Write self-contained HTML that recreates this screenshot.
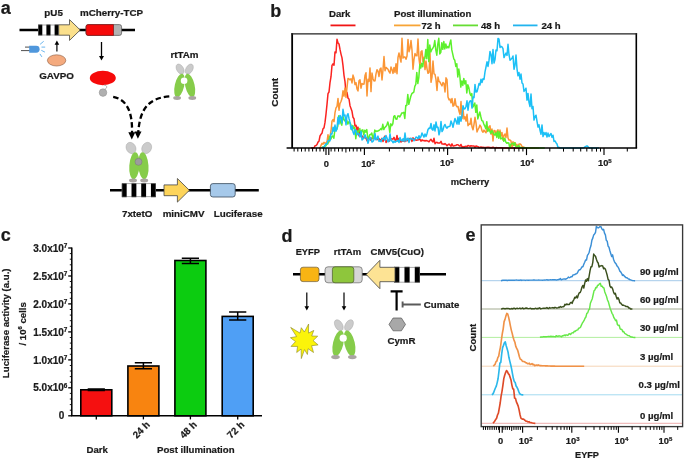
<!DOCTYPE html>
<html lang="en"><head><meta charset="utf-8"><title>Figure</title>
<style>
html,body{margin:0;padding:0;background:#fff;}
body{width:685px;height:460px;overflow:hidden;font-family:"Liberation Sans",Arial,sans-serif;}
svg{display:block;}
</style></head><body>
<svg width="685" height="460" viewBox="0 0 685 460" font-family="Liberation Sans, Arial, sans-serif" font-weight="bold">
<style>text{stroke:#222;stroke-width:0.22px;paint-order:stroke;}</style>
<text x="0.8" y="13.6" font-size="18" text-anchor="start" fill="#1a1a1a" >a</text>
<text x="53.6" y="16.0" font-size="9.8" text-anchor="middle" fill="#1a1a1a" >pU5</text>
<text x="80.0" y="16.0" font-size="9.8" text-anchor="start" fill="#1a1a1a" >mCherry-TCP</text>
<line x1="19.5" y1="30" x2="135" y2="30" stroke="#000" stroke-width="2.5"/>
<rect x="38.2" y="24.6" width="20.5" height="10.8" fill="#fff"/>
<rect x="38.20" y="24.6" width="4.10" height="10.8" fill="#000"/>
<rect x="46.40" y="24.6" width="4.10" height="10.8" fill="#000"/>
<rect x="54.60" y="24.6" width="4.10" height="10.8" fill="#000"/>
<rect x="38.6" y="25.0" width="19.7" height="10.0" fill="none" stroke="#555" stroke-width="0.5"/>
<path d="M58.7,24.8 L69.5,24.8 L69.5,19.6 L80.2,30.0 L69.5,40.4 L69.5,35.2 L58.7,35.2 Z" fill="#fbe08c" stroke="#444" stroke-width="0.8" stroke-linejoin="miter"/>
<rect x="86" y="24.6" width="35.6" height="10.8" rx="2.2" fill="#b3b3b3" stroke="#555" stroke-width="0.7"/>
<path d="M88.2,24.6 H113.5 V35.4 H88.2 A2.2,2.2 0 0 1 86,33.2 V26.8 A2.2,2.2 0 0 1 88.2,24.6 Z" fill="#f60a0a" stroke="#7a1a1a" stroke-width="0.7"/>
<line x1="25" y1="47.1" x2="30" y2="47.1" stroke="#222" stroke-width="0.8"/>
<line x1="21" y1="50.6" x2="30" y2="50.6" stroke="#222" stroke-width="0.8"/>
<path d="M29.2,45.8 H36.2 A3.4,3.45 0 0 1 36.2,52.7 H29.2 Z" fill="#4f97dc"/>
<line x1="40.1" y1="44.3" x2="43.7" y2="41.3" stroke="#6bb6ee" stroke-width="1.0"/>
<line x1="41.5" y1="47.1" x2="45.2" y2="47.1" stroke="#6bb6ee" stroke-width="1.0"/>
<line x1="41.3" y1="50.3" x2="44.9" y2="52.1" stroke="#6bb6ee" stroke-width="1.0"/>
<line x1="39.9" y1="53.9" x2="41.9" y2="56.9" stroke="#6bb6ee" stroke-width="1.0"/>
<line x1="56.9" y1="51.5" x2="56.9" y2="43.1" stroke="#000" stroke-width="1.2"/>
<path d="M54.6,44.8 L59.2,44.8 L56.9,40.6 Z" fill="#000"/>
<ellipse cx="56.6" cy="60.4" rx="9.2" ry="5.6" fill="#f4aa7e" stroke="#8a5a40" stroke-width="0.6"/>
<text x="56.6" y="78.6" font-size="9.8" text-anchor="middle" fill="#1a1a1a" >GAVPO</text>
<line x1="101.5" y1="42" x2="101.5" y2="57.7" stroke="#000" stroke-width="1.3"/>
<path d="M99.0,55.9 L104.0,55.9 L101.5,60.4 Z" fill="#000"/>
<ellipse cx="102.8" cy="78" rx="13" ry="7.2" fill="#f60a0a"/>
<path d="M104,85 C107.5,85 107.5,88.5 104.5,89.3" fill="none" stroke="#999" stroke-width="0.8"/>
<circle cx="103" cy="92.6" r="3.8" fill="#b0b0b0" stroke="#8a8a8a" stroke-width="0.5"/>
<text x="184.5" y="57.5" font-size="9.8" text-anchor="middle" fill="#1a1a1a" >rtTAm</text>
<ellipse cx="180.1" cy="69.1" rx="3.4" ry="5.5" fill="#cbcbcb" stroke="#a0a0a0" stroke-width="0.4" transform="rotate(-30 180.1 69.1)"/>
<ellipse cx="189.3" cy="69.1" rx="3.4" ry="5.5" fill="#cbcbcb" stroke="#a0a0a0" stroke-width="0.4" transform="rotate(30 189.3 69.1)"/>
<ellipse cx="179.5" cy="85.5" rx="4.7" ry="12.0" fill="#86cc4a" transform="rotate(13 179.5 85.5)"/>
<ellipse cx="189.9" cy="85.5" rx="4.7" ry="12.0" fill="#86cc4a" transform="rotate(-13 189.9 85.5)"/>
<ellipse cx="177.1" cy="98.0" rx="3.9" ry="1.9" fill="#aaa5a2"/>
<ellipse cx="192.3" cy="98.0" rx="3.9" ry="1.9" fill="#aaa5a2"/>
<circle cx="184.1" cy="80.8" r="3.3" fill="#fff"/>
<path d="M113.2,96.8 C127,99.5 132.6,112 132,133" fill="none" stroke="#000" stroke-width="2.3" stroke-dasharray="5.5,3"/>
<path d="M169.3,96.4 C148,98 139.8,110 138.3,132" fill="none" stroke="#000" stroke-width="2.3" stroke-dasharray="5.5,3"/>
<path d="M128.3,132.2 L135.3,132.2 L131.8,139.4 Z" fill="#000"/>
<path d="M134.5,131.6 L141.5,131.6 L137.9,138.8 Z" fill="#000"/>
<ellipse cx="131.0" cy="148" rx="4.7" ry="5.9" fill="#cbcbcb" stroke="#a0a0a0" stroke-width="0.4" transform="rotate(-28 131.0 148)"/>
<ellipse cx="146.7" cy="148" rx="4.7" ry="5.9" fill="#cbcbcb" stroke="#a0a0a0" stroke-width="0.4" transform="rotate(28 146.7 148)"/>
<ellipse cx="134.4" cy="165.8" rx="5.1" ry="13.5" fill="#86cc4a" transform="rotate(4 134.4 165.8)"/>
<ellipse cx="143.4" cy="165.8" rx="5.1" ry="13.5" fill="#86cc4a" transform="rotate(-4 143.4 165.8)"/>
<ellipse cx="133.0" cy="180.5" rx="4" ry="1.9" fill="#aaa5a2"/>
<ellipse cx="144.2" cy="180.5" rx="4" ry="1.9" fill="#aaa5a2"/>
<circle cx="138.5" cy="161.8" r="3.5" fill="#9c9c9c" stroke="#777" stroke-width="0.5"/>
<line x1="110" y1="190.3" x2="258.8" y2="190.3" stroke="#000" stroke-width="2.5"/>
<rect x="121.8" y="183.4" width="34.0" height="13.8" fill="#fff"/>
<rect x="121.80" y="183.4" width="4.86" height="13.8" fill="#000"/>
<rect x="131.51" y="183.4" width="4.86" height="13.8" fill="#000"/>
<rect x="141.23" y="183.4" width="4.86" height="13.8" fill="#000"/>
<rect x="150.94" y="183.4" width="4.86" height="13.8" fill="#000"/>
<rect x="122.2" y="183.8" width="33.2" height="13.0" fill="none" stroke="#555" stroke-width="0.5"/>
<path d="M164.0,184.9 L177.4,184.9 L177.4,178.5 L189.4,190.3 L177.4,202.1 L177.4,195.7 L164.0,195.7 Z" fill="#fdd45a" stroke="#444" stroke-width="0.8" stroke-linejoin="miter"/>
<rect x="210.4" y="183.6" width="24.8" height="13.4" rx="2.5" fill="#a6c9ea" stroke="#3a4a5a" stroke-width="0.8"/>
<text x="137.2" y="216.8" font-size="9.8" text-anchor="middle" fill="#1a1a1a" >7xtetO</text>
<text x="183.6" y="216.8" font-size="9.8" text-anchor="middle" fill="#1a1a1a" >miniCMV</text>
<text x="238.2" y="216.8" font-size="9.8" text-anchor="middle" fill="#1a1a1a" >Luciferase</text>
<text x="270.3" y="17.0" font-size="18" text-anchor="start" fill="#1a1a1a" >b</text>
<text x="329.0" y="16.6" font-size="9.6" text-anchor="start" fill="#1a1a1a" >Dark</text>
<text x="394.0" y="16.6" font-size="9.6" text-anchor="start" fill="#1a1a1a" >Post illumination</text>
<line x1="330.5" y1="25.4" x2="355.5" y2="25.4" stroke="#f01515" stroke-width="1.8"/>
<line x1="394" y1="25.4" x2="420.5" y2="25.4" stroke="#f7a436" stroke-width="1.8"/>
<text x="421.5" y="29.0" font-size="9.6" text-anchor="start" fill="#1a1a1a" >72 h</text>
<line x1="453" y1="25.4" x2="478" y2="25.4" stroke="#66dd33" stroke-width="1.8"/>
<text x="481.0" y="29.0" font-size="9.6" text-anchor="start" fill="#1a1a1a" >48 h</text>
<line x1="513" y1="25.4" x2="537.5" y2="25.4" stroke="#22b4ee" stroke-width="1.8"/>
<text x="541.5" y="29.0" font-size="9.6" text-anchor="start" fill="#1a1a1a" >24 h</text>
<text transform="translate(277.6,92.3) rotate(-90)" font-size="9.95" text-anchor="middle" fill="#1a1a1a">Count</text>
<text x="470.0" y="185.2" font-size="9.4" text-anchor="middle" fill="#1a1a1a" >mCherry</text>
<clipPath id="cb"><rect x="292" y="34" width="345" height="115.2"/></clipPath>
<g clip-path="url(#cb)">
<path d="M311.0,148.1 L312.0,148.1 L313.0,147.8 L314.0,148.0 L315.0,145.8 L316.0,145.6 L317.0,144.5 L318.0,142.1 L319.0,141.2 L320.0,136.0 L321.0,134.3 L322.0,133.2 L323.0,128.8 L324.0,127.9 L325.0,122.4 L326.0,114.1 L327.0,104.3 L328.0,93.6 L329.0,92.0 L330.0,82.6 L331.0,76.7 L332.0,65.4 L333.0,63.8 L334.0,65.2 L335.0,51.9 L336.0,52.7 L337.0,39.2 L338.0,42.9 L339.0,44.0 L340.0,49.4 L341.0,54.1 L342.0,57.9 L343.0,65.6 L344.0,75.3 L345.0,81.6 L346.0,93.3 L347.0,92.4 L348.0,98.2 L349.0,99.0 L350.0,105.7 L351.0,108.5 L352.0,111.3 L353.0,117.3 L354.0,118.7 L355.0,126.1 L356.0,125.2 L357.0,130.4 L358.0,127.1 L359.0,135.8 L360.0,131.2 L361.0,134.6 L362.0,136.1 L363.0,137.3 L364.0,137.3 L365.0,137.7 L366.0,137.9 L367.0,140.8 L368.0,138.3 L369.0,138.7 L370.0,138.6 L371.0,140.5 L372.0,137.8 L373.0,138.6 L374.0,137.4 L375.0,137.8 L376.0,139.2 L377.0,139.7 L378.0,138.3 L379.0,138.5 L380.0,140.5 L381.0,139.7 L382.0,138.3 L383.0,141.5 L384.0,138.8 L385.0,136.0 L386.0,142.5 L387.0,140.8 L388.0,139.9 L389.0,141.4 L390.0,139.3 L391.0,138.7 L392.0,138.9 L393.0,139.2 L394.0,137.3 L395.0,140.0 L396.0,140.3 L397.0,135.5 L398.0,141.1 L399.0,138.5 L400.0,139.2 L401.0,142.1 L402.0,140.2 L403.0,141.3 L404.0,140.7 L405.0,141.6 L406.0,139.0 L407.0,140.9 L408.0,139.3 L409.0,139.2 L410.0,138.4 L411.0,138.5 L412.0,141.4 L413.0,137.8 L414.0,139.3 L415.0,139.1 L416.0,140.4 L417.0,140.0 L418.0,140.1 L419.0,138.7 L420.0,139.5 L421.0,141.2 L422.0,139.9 L423.0,140.7 L424.0,140.4 L425.0,141.0 L426.0,140.5 L427.0,140.8 L428.0,141.1 L429.0,141.8 L430.0,140.3 L431.0,139.3 L432.0,141.0 L433.0,142.0 L434.0,138.3 L435.0,143.7 L436.0,142.6 L437.0,142.2 L438.0,143.1 L439.0,143.1 L440.0,142.9 L441.0,141.3 L442.0,144.1 L443.0,143.9 L444.0,144.4 L445.0,143.6 L446.0,144.5 L447.0,145.8 L448.0,144.7 L449.0,144.1 L450.0,145.1 L451.0,146.2 L452.0,143.9 L453.0,146.0 L454.0,145.9 L455.0,145.5 L456.0,145.4 L457.0,144.7 L458.0,144.7 L459.0,145.6 L460.0,146.2 L461.0,144.5 L462.0,147.0 L463.0,146.6 L464.0,147.1 L465.0,146.4 L466.0,146.2 L467.0,146.7 L468.0,145.4 L469.0,145.9 L470.0,146.4 L471.0,145.7 L472.0,146.0 L473.0,146.0 L474.0,146.0 L475.0,147.3 L476.0,145.9 L477.0,146.3 L478.0,146.6 L479.0,147.6 L480.0,147.2 L481.0,146.9 L482.0,147.5 L483.0,147.2 L484.0,147.4 L485.0,147.4 L486.0,147.6 L487.0,147.3 L488.0,147.2 L489.0,147.2 L490.0,147.8 L491.0,147.6 L492.0,147.8 L493.0,147.1 L494.0,147.7 L495.0,148.0 L496.0,147.6 L497.0,147.8 L498.0,147.7 L499.0,147.7 L500.0,147.7 L501.0,147.8 L502.0,147.8 L503.0,147.9 L504.0,148.0 L505.0,147.9 L506.0,147.9 L507.0,148.0 L508.0,148.0 L509.0,148.1 L510.0,148.1 L511.0,148.0 L512.0,148.1 L513.0,147.9 L514.0,148.0 L515.0,148.1 L516.0,148.1 L517.0,148.1 L518.0,148.1 L519.0,148.1 L520.0,148.1 L521.0,148.1 L522.0,148.1 L523.0,148.1 L524.0,148.1 L525.0,148.1 L526.0,148.1 L527.0,148.1 L528.0,148.1 L529.0,148.1 L530.0,148.1 L531.0,148.1 L532.0,148.1 L533.0,148.1 L534.0,148.1 L535.0,148.1" fill="none" stroke="#fb2320" stroke-width="1.5" stroke-linejoin="round"/>
<path d="M319.0,148.1 L320.0,148.1 L321.0,145.4 L322.0,143.3 L323.0,144.2 L324.0,142.3 L325.0,143.3 L326.0,142.9 L327.0,141.5 L328.0,134.7 L329.0,141.8 L330.0,136.4 L331.0,131.0 L332.0,121.1 L333.0,119.6 L334.0,121.6 L335.0,112.6 L336.0,107.9 L337.0,106.5 L338.0,98.4 L339.0,110.3 L340.0,103.5 L341.0,101.5 L342.0,98.5 L343.0,90.8 L344.0,96.2 L345.0,88.0 L346.0,97.5 L347.0,87.5 L348.0,78.4 L349.0,79.0 L350.0,79.8 L351.0,78.7 L352.0,82.9 L353.0,75.1 L354.0,78.3 L355.0,84.6 L356.0,82.7 L357.0,88.9 L358.0,91.0 L359.0,80.8 L360.0,79.8 L361.0,88.2 L362.0,83.5 L363.0,84.2 L364.0,84.1 L365.0,75.6 L366.0,72.7 L367.0,96.0 L368.0,79.3 L369.0,81.4 L370.0,67.9 L371.0,91.6 L372.0,73.1 L373.0,78.7 L374.0,81.0 L375.0,80.8 L376.0,73.9 L377.0,69.7 L378.0,71.2 L379.0,76.5 L380.0,69.0 L381.0,68.1 L382.0,80.0 L383.0,69.7 L384.0,56.5 L385.0,70.8 L386.0,67.4 L387.0,68.4 L388.0,69.3 L389.0,71.7 L390.0,73.2 L391.0,66.9 L392.0,69.7 L393.0,73.4 L394.0,67.4 L395.0,72.4 L396.0,63.8 L397.0,73.7 L398.0,57.4 L399.0,53.0 L400.0,57.8 L401.0,62.1 L402.0,38.3 L403.0,58.1 L404.0,56.9 L405.0,57.1 L406.0,59.3 L407.0,56.0 L408.0,39.4 L409.0,51.7 L410.0,48.3 L411.0,40.5 L412.0,50.0 L413.0,69.3 L414.0,59.3 L415.0,53.6 L416.0,55.6 L417.0,55.8 L418.0,39.0 L419.0,58.8 L420.0,66.1 L421.0,51.9 L422.0,50.9 L423.0,61.8 L424.0,57.3 L425.0,69.6 L426.0,61.1 L427.0,68.6 L428.0,73.3 L429.0,72.5 L430.0,53.3 L431.0,82.3 L432.0,77.1 L433.0,60.9 L434.0,73.8 L435.0,74.4 L436.0,79.7 L437.0,90.4 L438.0,76.9 L439.0,81.4 L440.0,82.1 L441.0,84.1 L442.0,85.9 L443.0,82.5 L444.0,83.5 L445.0,91.9 L446.0,77.8 L447.0,79.6 L448.0,97.0 L449.0,99.8 L450.0,99.1 L451.0,102.8 L452.0,98.4 L453.0,106.2 L454.0,105.4 L455.0,98.7 L456.0,105.4 L457.0,106.7 L458.0,106.5 L459.0,111.2 L460.0,114.4 L461.0,101.5 L462.0,118.6 L463.0,108.8 L464.0,119.0 L465.0,116.8 L466.0,121.1 L467.0,114.3 L468.0,125.7 L469.0,124.0 L470.0,124.4 L471.0,118.3 L472.0,126.8 L473.0,129.8 L474.0,124.3 L475.0,117.3 L476.0,122.9 L477.0,132.0 L478.0,129.5 L479.0,127.6 L480.0,125.1 L481.0,126.8 L482.0,130.9 L483.0,132.2 L484.0,130.1 L485.0,131.5 L486.0,132.8 L487.0,128.1 L488.0,129.1 L489.0,126.8 L490.0,125.8 L491.0,134.1 L492.0,129.0 L493.0,141.0 L494.0,130.4 L495.0,130.7 L496.0,134.8 L497.0,130.9 L498.0,129.8 L499.0,136.0 L500.0,130.0 L501.0,136.0 L502.0,132.5 L503.0,140.1 L504.0,135.3 L505.0,134.0 L506.0,137.5 L507.0,128.1 L508.0,138.0 L509.0,140.1 L510.0,140.0 L511.0,141.1 L512.0,147.4 L513.0,141.7 L514.0,145.6 L515.0,142.6 L516.0,145.3 L517.0,144.4 L518.0,147.8 L519.0,144.1 L520.0,143.9 L521.0,144.7 L522.0,146.5 L523.0,146.9 L524.0,147.3 L525.0,147.9 L526.0,148.1 L527.0,148.1 L528.0,148.1 L529.0,148.1 L530.0,148.1 L531.0,148.1 L532.0,148.1 L533.0,148.1 L534.0,148.1 L535.0,148.1 L536.0,148.1 L537.0,148.1 L538.0,148.1 L539.0,148.1" fill="none" stroke="#fb9636" stroke-width="1.5" stroke-linejoin="round"/>
<path d="M321.8,148.1 L322.8,147.1 L323.8,147.0 L324.8,146.2 L325.8,145.8 L326.8,143.8 L327.8,143.9 L328.8,141.2 L329.8,136.3 L330.8,139.1 L331.8,136.6 L332.8,136.0 L333.8,138.3 L334.8,130.7 L335.8,130.1 L336.8,129.4 L337.8,126.0 L338.8,115.8 L339.8,118.9 L340.8,123.0 L341.8,125.2 L342.8,115.6 L343.8,119.5 L344.8,120.9 L345.8,119.1 L346.8,120.5 L347.8,124.1 L348.8,121.7 L349.8,122.7 L350.8,124.4 L351.8,129.8 L352.8,125.6 L353.8,128.5 L354.8,127.7 L355.8,138.7 L356.8,130.6 L357.8,133.1 L358.8,130.7 L359.8,128.5 L360.8,134.6 L361.8,130.3 L362.8,129.9 L363.8,134.9 L364.8,130.2 L365.8,132.2 L366.8,129.6 L367.8,138.5 L368.8,137.8 L369.8,134.7 L370.8,134.5 L371.8,133.0 L372.8,138.4 L373.8,136.1 L374.8,130.1 L375.8,131.7 L376.8,130.9 L377.8,131.2 L378.8,130.5 L379.8,129.9 L380.8,128.6 L381.8,129.6 L382.8,124.3 L383.8,129.6 L384.8,127.5 L385.8,126.6 L386.8,125.2 L387.8,122.0 L388.8,125.3 L389.8,132.5 L390.8,123.8 L391.8,125.7 L392.8,123.8 L393.8,116.3 L394.8,115.7 L395.8,119.1 L396.8,119.3 L397.8,116.1 L398.8,115.9 L399.8,116.9 L400.8,115.2 L401.8,112.9 L402.8,112.9 L403.8,112.4 L404.8,118.4 L405.8,105.4 L406.8,105.4 L407.8,94.4 L408.8,104.3 L409.8,100.3 L410.8,96.3 L411.8,93.7 L412.8,92.9 L413.8,92.1 L414.8,86.3 L415.8,84.4 L416.8,72.4 L417.8,83.5 L418.8,77.6 L419.8,64.6 L420.8,68.0 L421.8,63.2 L422.8,66.7 L423.8,59.0 L424.8,58.6 L425.8,49.6 L426.8,58.7 L427.8,39.6 L428.8,61.6 L429.8,45.0 L430.8,52.1 L431.8,49.4 L432.8,48.2 L433.8,46.4 L434.8,40.6 L435.8,49.9 L436.8,55.2 L437.8,44.1 L438.8,38.3 L439.8,53.9 L440.8,52.3 L441.8,42.8 L442.8,49.3 L443.8,41.6 L444.8,48.9 L445.8,43.9 L446.8,48.1 L447.8,46.5 L448.8,47.8 L449.8,43.4 L450.8,39.9 L451.8,49.9 L452.8,54.3 L453.8,58.9 L454.8,60.3 L455.8,66.5 L456.8,63.7 L457.8,76.9 L458.8,69.1 L459.8,75.5 L460.8,87.1 L461.8,80.9 L462.8,85.4 L463.8,78.4 L464.8,83.9 L465.8,80.7 L466.8,93.0 L467.8,84.8 L468.8,87.4 L469.8,93.1 L470.8,95.5 L471.8,93.6 L472.8,107.2 L473.8,105.4 L474.8,103.0 L475.8,112.3 L476.8,105.0 L477.8,118.9 L478.8,115.5 L479.8,111.9 L480.8,116.5 L481.8,120.6 L482.8,121.0 L483.8,124.0 L484.8,126.1 L485.8,128.7 L486.8,121.7 L487.8,131.5 L488.8,128.5 L489.8,131.1 L490.8,133.4 L491.8,130.5 L492.8,132.0 L493.8,134.4 L494.8,135.0 L495.8,132.8 L496.8,137.4 L497.8,131.2 L498.8,138.3 L499.8,132.1 L500.8,139.0 L501.8,138.3 L502.8,138.1 L503.8,141.3 L504.8,138.2 L505.8,142.1 L506.8,143.3 L507.8,142.7 L508.8,142.9 L509.8,148.1 L510.8,144.4 L511.8,143.6 L512.8,143.1 L513.8,145.1 L514.8,142.7 L515.8,146.2 L516.8,147.2 L517.8,146.2 L518.8,145.2 L519.8,148.1 L520.8,147.3 L521.8,148.0 L522.8,148.1 L523.8,147.6 L524.8,147.7 L525.8,147.7 L526.8,148.1 L527.8,148.1 L528.8,148.1 L529.8,148.1 L530.8,148.1 L531.8,148.1 L532.8,148.1 L533.8,148.1 L534.8,148.1 L535.8,148.1 L536.8,148.1 L537.8,148.1 L538.8,148.1 L539.8,148.1 L540.8,148.1 L541.8,148.1 L542.8,148.1 L543.8,148.1 L544.8,148.1" fill="none" stroke="#5cf02c" stroke-width="1.5" stroke-linejoin="round"/>
<path d="M322.0,148.1 L323.0,147.2 L324.0,147.6 L325.0,145.1 L326.0,143.6 L327.0,144.0 L328.0,140.6 L329.0,140.6 L330.0,140.8 L331.0,133.7 L332.0,134.0 L333.0,127.3 L334.0,131.2 L335.0,125.0 L336.0,131.3 L337.0,128.4 L338.0,117.3 L339.0,123.9 L340.0,115.4 L341.0,117.3 L342.0,122.9 L343.0,109.3 L344.0,115.7 L345.0,115.0 L346.0,124.8 L347.0,115.5 L348.0,113.7 L349.0,118.5 L350.0,122.6 L351.0,129.2 L352.0,125.9 L353.0,132.0 L354.0,134.5 L355.0,129.6 L356.0,130.6 L357.0,134.8 L358.0,133.3 L359.0,134.1 L360.0,137.1 L361.0,131.2 L362.0,139.9 L363.0,138.9 L364.0,137.9 L365.0,134.8 L366.0,137.6 L367.0,138.2 L368.0,143.3 L369.0,140.0 L370.0,137.2 L371.0,138.7 L372.0,142.0 L373.0,141.4 L374.0,139.7 L375.0,133.4 L376.0,139.8 L377.0,138.5 L378.0,136.1 L379.0,141.4 L380.0,140.8 L381.0,141.7 L382.0,138.7 L383.0,139.0 L384.0,137.2 L385.0,140.3 L386.0,135.6 L387.0,138.0 L388.0,141.8 L389.0,141.1 L390.0,133.8 L391.0,140.7 L392.0,140.7 L393.0,142.8 L394.0,141.0 L395.0,142.3 L396.0,141.5 L397.0,141.0 L398.0,140.4 L399.0,142.5 L400.0,137.6 L401.0,140.2 L402.0,140.9 L403.0,138.7 L404.0,141.3 L405.0,133.0 L406.0,140.9 L407.0,139.4 L408.0,138.1 L409.0,142.5 L410.0,138.8 L411.0,138.4 L412.0,139.1 L413.0,139.0 L414.0,140.8 L415.0,139.3 L416.0,137.0 L417.0,137.4 L418.0,138.9 L419.0,135.7 L420.0,138.1 L421.0,136.5 L422.0,133.0 L423.0,135.1 L424.0,137.1 L425.0,134.0 L426.0,136.6 L427.0,133.7 L428.0,129.5 L429.0,128.1 L430.0,128.5 L431.0,123.5 L432.0,129.3 L433.0,130.1 L434.0,124.8 L435.0,130.9 L436.0,122.0 L437.0,127.5 L438.0,127.2 L439.0,134.8 L440.0,131.1 L441.0,121.5 L442.0,131.6 L443.0,129.8 L444.0,126.1 L445.0,124.5 L446.0,127.1 L447.0,128.1 L448.0,126.6 L449.0,126.7 L450.0,126.2 L451.0,121.0 L452.0,123.6 L453.0,127.3 L454.0,122.5 L455.0,118.4 L456.0,121.3 L457.0,124.1 L458.0,117.1 L459.0,124.2 L460.0,116.5 L461.0,121.2 L462.0,115.6 L463.0,105.7 L464.0,108.9 L465.0,108.8 L466.0,106.5 L467.0,100.8 L468.0,110.2 L469.0,102.9 L470.0,101.0 L471.0,100.7 L472.0,108.1 L473.0,96.9 L474.0,97.6 L475.0,84.4 L476.0,92.1 L477.0,91.8 L478.0,88.0 L479.0,83.6 L480.0,85.0 L481.0,79.2 L482.0,82.5 L483.0,78.7 L484.0,79.4 L485.0,71.8 L486.0,67.0 L487.0,61.8 L488.0,66.4 L489.0,60.4 L490.0,51.4 L491.0,54.4 L492.0,63.7 L493.0,49.5 L494.0,63.0 L495.0,59.6 L496.0,50.0 L497.0,50.8 L498.0,38.4 L499.0,39.2 L500.0,47.4 L501.0,46.3 L502.0,46.9 L503.0,48.7 L504.0,57.6 L505.0,55.1 L506.0,53.1 L507.0,55.4 L508.0,44.2 L509.0,54.7 L510.0,60.2 L511.0,59.2 L512.0,58.3 L513.0,56.0 L514.0,69.3 L515.0,65.2 L516.0,55.0 L517.0,68.8 L518.0,75.8 L519.0,72.5 L520.0,79.2 L521.0,74.1 L522.0,83.0 L523.0,84.0 L524.0,91.4 L525.0,90.0 L526.0,88.2 L527.0,100.2 L528.0,93.4 L529.0,102.4 L530.0,106.6 L531.0,94.1 L532.0,108.8 L533.0,106.5 L534.0,120.1 L535.0,116.4 L536.0,115.2 L537.0,121.4 L538.0,127.1 L539.0,124.8 L540.0,130.2 L541.0,134.2 L542.0,124.9 L543.0,136.6 L544.0,132.6 L545.0,134.7 L546.0,132.5 L547.0,137.1 L548.0,133.1 L549.0,136.6 L550.0,134.8 L551.0,133.5 L552.0,137.3 L553.0,135.2 L554.0,141.4 L555.0,141.0 L556.0,142.7 L557.0,144.0 L558.0,147.6 L559.0,147.2 L560.0,148.1 L561.0,148.1 L562.0,148.1 L563.0,148.1 L564.0,148.1 L565.0,148.1 L566.0,148.1 L567.0,148.1 L568.0,148.1 L569.0,148.1 L570.0,148.1 L571.0,148.1 L572.0,148.1 L573.0,148.1 L574.0,148.1 L575.0,148.1 L576.0,148.1 L577.0,148.1 L578.0,148.1 L579.0,148.1 L580.0,148.1 L581.0,148.1 L582.0,148.1 L583.0,148.1 L584.0,147.6 L585.0,146.8 L586.0,146.3 L587.0,145.9 L588.0,146.7 L589.0,147.7 L590.0,148.1 L591.0,148.1 L592.0,148.1 L593.0,148.1 L594.0,148.1 L595.0,148.1 L596.0,148.1 L597.0,148.1 L598.0,148.1 L599.0,148.1" fill="none" stroke="#1cc0f6" stroke-width="1.5" stroke-linejoin="round"/>
</g>
<line x1="292.15" y1="33.2" x2="292.15" y2="148.1" stroke="#000" stroke-width="1.8"/>
<line x1="636.3" y1="33.2" x2="636.3" y2="148.1" stroke="#000" stroke-width="1.6"/>
<line x1="291.3" y1="33.8" x2="637.1" y2="33.8" stroke="#222" stroke-width="1.25"/>
<line x1="286.6" y1="148.1" x2="637.1" y2="148.1" stroke="#000" stroke-width="1.5"/>
<line x1="364.4" y1="148.1" x2="364.4" y2="155.1" stroke="#000" stroke-width="1.15"/>
<line x1="447.6" y1="148.1" x2="447.6" y2="155.1" stroke="#000" stroke-width="1.15"/>
<line x1="526.5" y1="148.1" x2="526.5" y2="155.1" stroke="#000" stroke-width="1.15"/>
<line x1="604.0" y1="148.1" x2="604.0" y2="155.1" stroke="#000" stroke-width="1.15"/>
<line x1="326.0" y1="148.1" x2="326.0" y2="155.1" stroke="#000" stroke-width="1.15"/>
<line x1="328.8" y1="148.1" x2="328.8" y2="155.1" stroke="#000" stroke-width="1.15"/>
<line x1="331.1" y1="148.1" x2="331.1" y2="151.6" stroke="#000" stroke-width="1.03"/>
<line x1="334.8" y1="148.1" x2="334.8" y2="151.6" stroke="#000" stroke-width="1.03"/>
<line x1="338.5" y1="148.1" x2="338.5" y2="151.6" stroke="#000" stroke-width="1.03"/>
<line x1="342.2" y1="148.1" x2="342.2" y2="151.6" stroke="#000" stroke-width="1.03"/>
<line x1="345.9" y1="148.1" x2="345.9" y2="152.6" stroke="#000" stroke-width="1.03"/>
<line x1="349.6" y1="148.1" x2="349.6" y2="151.6" stroke="#000" stroke-width="1.03"/>
<line x1="353.3" y1="148.1" x2="353.3" y2="151.6" stroke="#000" stroke-width="1.03"/>
<line x1="357.0" y1="148.1" x2="357.0" y2="151.6" stroke="#000" stroke-width="1.03"/>
<line x1="360.7" y1="148.1" x2="360.7" y2="151.6" stroke="#000" stroke-width="1.03"/>
<line x1="323.7" y1="148.1" x2="323.7" y2="151.6" stroke="#000" stroke-width="1.03"/>
<line x1="320.0" y1="148.1" x2="320.0" y2="151.6" stroke="#000" stroke-width="1.03"/>
<line x1="316.3" y1="148.1" x2="316.3" y2="151.6" stroke="#000" stroke-width="1.03"/>
<line x1="312.6" y1="148.1" x2="312.6" y2="151.6" stroke="#000" stroke-width="1.03"/>
<line x1="308.9" y1="148.1" x2="308.9" y2="151.6" stroke="#000" stroke-width="1.03"/>
<line x1="305.2" y1="148.1" x2="305.2" y2="151.6" stroke="#000" stroke-width="1.03"/>
<line x1="301.5" y1="148.1" x2="301.5" y2="151.6" stroke="#000" stroke-width="1.03"/>
<line x1="297.8" y1="148.1" x2="297.8" y2="151.6" stroke="#000" stroke-width="1.03"/>
<line x1="294.1" y1="148.1" x2="294.1" y2="151.6" stroke="#000" stroke-width="1.03"/>
<line x1="389.4" y1="148.1" x2="389.4" y2="151.6" stroke="#000" stroke-width="1.03"/>
<line x1="404.1" y1="148.1" x2="404.1" y2="151.6" stroke="#000" stroke-width="1.03"/>
<line x1="414.5" y1="148.1" x2="414.5" y2="151.6" stroke="#000" stroke-width="1.03"/>
<line x1="422.6" y1="148.1" x2="422.6" y2="151.6" stroke="#000" stroke-width="1.03"/>
<line x1="429.1" y1="148.1" x2="429.1" y2="151.6" stroke="#000" stroke-width="1.03"/>
<line x1="434.7" y1="148.1" x2="434.7" y2="151.6" stroke="#000" stroke-width="1.03"/>
<line x1="439.5" y1="148.1" x2="439.5" y2="151.6" stroke="#000" stroke-width="1.03"/>
<line x1="443.8" y1="148.1" x2="443.8" y2="151.6" stroke="#000" stroke-width="1.03"/>
<line x1="471.4" y1="148.1" x2="471.4" y2="151.6" stroke="#000" stroke-width="1.03"/>
<line x1="485.2" y1="148.1" x2="485.2" y2="151.6" stroke="#000" stroke-width="1.03"/>
<line x1="495.1" y1="148.1" x2="495.1" y2="151.6" stroke="#000" stroke-width="1.03"/>
<line x1="502.7" y1="148.1" x2="502.7" y2="151.6" stroke="#000" stroke-width="1.03"/>
<line x1="509.0" y1="148.1" x2="509.0" y2="151.6" stroke="#000" stroke-width="1.03"/>
<line x1="514.3" y1="148.1" x2="514.3" y2="151.6" stroke="#000" stroke-width="1.03"/>
<line x1="518.9" y1="148.1" x2="518.9" y2="151.6" stroke="#000" stroke-width="1.03"/>
<line x1="522.9" y1="148.1" x2="522.9" y2="151.6" stroke="#000" stroke-width="1.03"/>
<line x1="549.8" y1="148.1" x2="549.8" y2="151.6" stroke="#000" stroke-width="1.03"/>
<line x1="563.5" y1="148.1" x2="563.5" y2="151.6" stroke="#000" stroke-width="1.03"/>
<line x1="573.2" y1="148.1" x2="573.2" y2="151.6" stroke="#000" stroke-width="1.03"/>
<line x1="580.7" y1="148.1" x2="580.7" y2="151.6" stroke="#000" stroke-width="1.03"/>
<line x1="586.8" y1="148.1" x2="586.8" y2="151.6" stroke="#000" stroke-width="1.03"/>
<line x1="592.0" y1="148.1" x2="592.0" y2="151.6" stroke="#000" stroke-width="1.03"/>
<line x1="596.5" y1="148.1" x2="596.5" y2="151.6" stroke="#000" stroke-width="1.03"/>
<line x1="600.5" y1="148.1" x2="600.5" y2="151.6" stroke="#000" stroke-width="1.03"/>
<line x1="627.3" y1="148.1" x2="627.3" y2="151.6" stroke="#000" stroke-width="1.03"/>
<text x="326.4" y="167.3" font-size="9.3" text-anchor="middle" fill="#1a1a1a" >0</text>
<text x="361.2" y="167.3" font-size="9.3" text-anchor="start" fill="#1a1a1a" >10<tspan font-size="6.0" dy="-3.3">2</tspan></text>
<text x="440.0" y="166.0" font-size="9.3" text-anchor="start" fill="#1a1a1a" >10<tspan font-size="6.0" dy="-3.3">3</tspan></text>
<text x="520.2" y="166.0" font-size="9.3" text-anchor="start" fill="#1a1a1a" >10<tspan font-size="6.0" dy="-3.3">4</tspan></text>
<text x="598.0" y="166.0" font-size="9.3" text-anchor="start" fill="#1a1a1a" >10<tspan font-size="6.0" dy="-3.3">5</tspan></text>
<text x="0.8" y="241.0" font-size="18" text-anchor="start" fill="#1a1a1a" >c</text>
<text transform="translate(9.4,323.3) rotate(-90)" font-size="9.65" text-anchor="middle" fill="#1a1a1a">Luciferase activity (a.u.)</text>
<text transform="translate(25.9,323.8) rotate(-90)" font-size="9.65" text-anchor="middle" fill="#1a1a1a">/ 10<tspan font-size="5.8" dy="-3.6">6</tspan><tspan dy="3.6"> cells</tspan></text>
<line x1="68.2" y1="415.8" x2="71.8" y2="415.8" stroke="#000" stroke-width="1.3"/>
<text x="64.3" y="419.4" font-size="10" text-anchor="end" fill="#1a1a1a" >0</text>
<line x1="69.8" y1="410.2" x2="71.8" y2="410.2" stroke="#000" stroke-width="0.9"/>
<line x1="69.8" y1="404.6" x2="71.8" y2="404.6" stroke="#000" stroke-width="0.9"/>
<line x1="69.8" y1="399.0" x2="71.8" y2="399.0" stroke="#000" stroke-width="0.9"/>
<line x1="69.8" y1="393.4" x2="71.8" y2="393.4" stroke="#000" stroke-width="0.9"/>
<line x1="68.2" y1="387.8" x2="71.8" y2="387.8" stroke="#000" stroke-width="1.3"/>
<text x="67.4" y="391.4" font-size="10" text-anchor="end" fill="#1a1a1a" >5.0x10<tspan font-size="6.4" dy="-3.6">6</tspan></text>
<line x1="69.8" y1="382.2" x2="71.8" y2="382.2" stroke="#000" stroke-width="0.9"/>
<line x1="69.8" y1="376.6" x2="71.8" y2="376.6" stroke="#000" stroke-width="0.9"/>
<line x1="69.8" y1="371.0" x2="71.8" y2="371.0" stroke="#000" stroke-width="0.9"/>
<line x1="69.8" y1="365.5" x2="71.8" y2="365.5" stroke="#000" stroke-width="0.9"/>
<line x1="68.2" y1="359.9" x2="71.8" y2="359.9" stroke="#000" stroke-width="1.3"/>
<text x="67.4" y="363.5" font-size="10" text-anchor="end" fill="#1a1a1a" >1.0x10<tspan font-size="6.4" dy="-3.6">7</tspan></text>
<line x1="69.8" y1="354.3" x2="71.8" y2="354.3" stroke="#000" stroke-width="0.9"/>
<line x1="69.8" y1="348.7" x2="71.8" y2="348.7" stroke="#000" stroke-width="0.9"/>
<line x1="69.8" y1="343.1" x2="71.8" y2="343.1" stroke="#000" stroke-width="0.9"/>
<line x1="69.8" y1="337.5" x2="71.8" y2="337.5" stroke="#000" stroke-width="0.9"/>
<line x1="68.2" y1="331.9" x2="71.8" y2="331.9" stroke="#000" stroke-width="1.3"/>
<text x="67.4" y="335.5" font-size="10" text-anchor="end" fill="#1a1a1a" >1.5x10<tspan font-size="6.4" dy="-3.6">7</tspan></text>
<line x1="69.8" y1="326.3" x2="71.8" y2="326.3" stroke="#000" stroke-width="0.9"/>
<line x1="69.8" y1="320.7" x2="71.8" y2="320.7" stroke="#000" stroke-width="0.9"/>
<line x1="69.8" y1="315.1" x2="71.8" y2="315.1" stroke="#000" stroke-width="0.9"/>
<line x1="69.8" y1="309.5" x2="71.8" y2="309.5" stroke="#000" stroke-width="0.9"/>
<line x1="68.2" y1="303.9" x2="71.8" y2="303.9" stroke="#000" stroke-width="1.3"/>
<text x="67.4" y="307.5" font-size="10" text-anchor="end" fill="#1a1a1a" >2.0x10<tspan font-size="6.4" dy="-3.6">7</tspan></text>
<line x1="69.8" y1="298.3" x2="71.8" y2="298.3" stroke="#000" stroke-width="0.9"/>
<line x1="69.8" y1="292.7" x2="71.8" y2="292.7" stroke="#000" stroke-width="0.9"/>
<line x1="69.8" y1="287.1" x2="71.8" y2="287.1" stroke="#000" stroke-width="0.9"/>
<line x1="69.8" y1="281.5" x2="71.8" y2="281.5" stroke="#000" stroke-width="0.9"/>
<line x1="68.2" y1="276.0" x2="71.8" y2="276.0" stroke="#000" stroke-width="1.3"/>
<text x="67.4" y="279.6" font-size="10" text-anchor="end" fill="#1a1a1a" >2.5x10<tspan font-size="6.4" dy="-3.6">7</tspan></text>
<line x1="69.8" y1="270.4" x2="71.8" y2="270.4" stroke="#000" stroke-width="0.9"/>
<line x1="69.8" y1="264.8" x2="71.8" y2="264.8" stroke="#000" stroke-width="0.9"/>
<line x1="69.8" y1="259.2" x2="71.8" y2="259.2" stroke="#000" stroke-width="0.9"/>
<line x1="69.8" y1="253.6" x2="71.8" y2="253.6" stroke="#000" stroke-width="0.9"/>
<line x1="68.2" y1="248.0" x2="71.8" y2="248.0" stroke="#000" stroke-width="1.3"/>
<text x="67.4" y="251.6" font-size="10" text-anchor="end" fill="#1a1a1a" >3.0x10<tspan font-size="6.4" dy="-3.6">7</tspan></text>
<rect x="80.8" y="389.8" width="31.0" height="26.0" fill="#f51010" stroke="#000" stroke-width="1.6"/>
<path d="M87.7,389.0 H104.9 M87.7,390.6 H104.9 M96.3,389.0 V390.6" stroke="#000" stroke-width="1.5" fill="none"/>
<line x1="96.3" y1="415.8" x2="96.3" y2="419.40000000000003" stroke="#000" stroke-width="1.3"/>
<rect x="127.9" y="366.0" width="31.0" height="49.8" fill="#f88410" stroke="#000" stroke-width="1.6"/>
<path d="M134.8,362.7 H152.0 M134.8,368.8 H152.0 M143.4,362.7 V368.8" stroke="#000" stroke-width="1.5" fill="none"/>
<line x1="143.4" y1="415.8" x2="143.4" y2="419.40000000000003" stroke="#000" stroke-width="1.3"/>
<rect x="174.9" y="260.5" width="31.0" height="155.3" fill="#0ccc10" stroke="#000" stroke-width="1.6"/>
<path d="M181.8,258.2 H199.0 M181.8,263.6 H199.0 M190.4,258.2 V263.6" stroke="#000" stroke-width="1.5" fill="none"/>
<line x1="190.4" y1="415.8" x2="190.4" y2="419.40000000000003" stroke="#000" stroke-width="1.3"/>
<rect x="222.2" y="316.4" width="31.0" height="99.4" fill="#4f9ff5" stroke="#000" stroke-width="1.6"/>
<path d="M229.1,311.9 H246.3 M229.1,320.1 H246.3 M237.7,311.9 V320.1" stroke="#000" stroke-width="1.5" fill="none"/>
<line x1="237.7" y1="415.8" x2="237.7" y2="419.40000000000003" stroke="#000" stroke-width="1.3"/>
<path d="M71.8,247.4 V415.8 H262" fill="none" stroke="#000" stroke-width="1.5"/>
<text x="97.2" y="452.8" font-size="9.65" text-anchor="middle" fill="#1a1a1a" >Dark</text>
<text x="195.8" y="452.8" font-size="9.65" text-anchor="middle" fill="#1a1a1a" >Post illumination</text>
<text transform="translate(150.6,425.2) rotate(-45)" font-size="9.8" text-anchor="end" fill="#1a1a1a">24 h</text>
<text transform="translate(197.6,425.2) rotate(-45)" font-size="9.8" text-anchor="end" fill="#1a1a1a">48 h</text>
<text transform="translate(244.9,425.2) rotate(-45)" font-size="9.8" text-anchor="end" fill="#1a1a1a">72 h</text>
<text x="281.6" y="241.5" font-size="18" text-anchor="start" fill="#1a1a1a" >d</text>
<text x="307.8" y="255.0" font-size="9.3" text-anchor="middle" fill="#1a1a1a" >EYFP</text>
<text x="347.5" y="255.0" font-size="9.5" text-anchor="middle" fill="#1a1a1a" >rtTAm</text>
<text x="397.2" y="255.0" font-size="9.6" text-anchor="middle" fill="#1a1a1a" >CMV5(CuO)</text>
<line x1="293" y1="274.3" x2="446" y2="274.3" stroke="#000" stroke-width="2.5"/>
<rect x="300.4" y="267.2" width="18.6" height="14.4" rx="2.6" fill="#f8b414" stroke="#6a5a3a" stroke-width="0.7"/>
<rect x="325" y="266.8" width="37.2" height="16" rx="3" fill="#d6d6d6" stroke="#666" stroke-width="0.7"/>
<rect x="332.4" y="266.8" width="21.4" height="16" rx="2.6" fill="#8ec63c" stroke="#4a5a2a" stroke-width="0.7"/>
<rect x="394.2" y="266.8" width="25.7" height="15.7" fill="#fff"/>
<rect x="394.20" y="266.8" width="5.14" height="15.7" fill="#000"/>
<rect x="404.48" y="266.8" width="5.14" height="15.7" fill="#000"/>
<rect x="414.76" y="266.8" width="5.14" height="15.7" fill="#000"/>
<rect x="394.6" y="267.2" width="24.9" height="14.9" fill="none" stroke="#555" stroke-width="0.5"/>
<path d="M395.0,267.3 L379.9,267.3 L379.9,260.3 L366.2,274.5 L379.9,288.7 L379.9,281.7 L395.0,281.7 Z" fill="#fde394" stroke="#444" stroke-width="0.8"/>
<line x1="306.8" y1="292.6" x2="306.8" y2="307.9" stroke="#000" stroke-width="1.2"/>
<path d="M304.5,306.2 L309.1,306.2 L306.8,310.4 Z" fill="#000"/>
<line x1="344" y1="292.6" x2="344" y2="307.9" stroke="#000" stroke-width="1.2"/>
<path d="M341.7,306.2 L346.3,306.2 L344,310.4 Z" fill="#000"/>
<path d="M390.6,291.4 H402.6 M396.6,291.4 V310.6" stroke="#000" stroke-width="2.2" fill="none"/>
<path d="M402.6,301.6 V307.4 M402.6,304.5 H420.8" stroke="#5a5a5a" stroke-width="1.9" fill="none"/>
<text x="423.8" y="307.7" font-size="9.7" text-anchor="start" fill="#1a1a1a" >Cumate</text>
<path d="M389,324.4 L393.1,318 L401.4,318 L405.5,324.4 L401.4,330.8 L393.1,330.8 Z" fill="#a8a8a8" stroke="#555" stroke-width="0.7"/>
<text x="401.4" y="343.5" font-size="9.7" text-anchor="middle" fill="#1a1a1a" >CymR</text>
<path d="M308.6,324.0 L308.5,333.1 L313.8,330.4 L311.7,336.0 L317.7,336.2 L313.1,340.6 L318.1,344.9 L311.6,345.7 L313.5,352.5 L308.1,348.7 L307.4,354.5 L304.5,349.6 L301.3,358.6 L301.1,349.0 L296.7,352.5 L297.6,346.4 L291.0,346.4 L295.5,341.6 L290.4,337.7 L296.6,336.6 L290.7,327.4 L300.0,333.1 L301.3,327.7 L304.4,332.0 Z" fill="#fbf40a" stroke="#8a8420" stroke-width="0.6"/>
<ellipse cx="338.8" cy="325.3" rx="3.7" ry="6.1" fill="#cbcbcb" stroke="#a0a0a0" stroke-width="0.4" transform="rotate(-30 338.8 325.3)"/>
<ellipse cx="349.0" cy="325.3" rx="3.7" ry="6.1" fill="#cbcbcb" stroke="#a0a0a0" stroke-width="0.4" transform="rotate(30 349.0 325.3)"/>
<ellipse cx="338.2" cy="343.3" rx="5.2" ry="13.2" fill="#86cc4a" transform="rotate(13 338.2 343.3)"/>
<ellipse cx="349.6" cy="343.3" rx="5.2" ry="13.2" fill="#86cc4a" transform="rotate(-13 349.6 343.3)"/>
<ellipse cx="335.5" cy="357.1" rx="4.3" ry="2.1" fill="#aaa5a2"/>
<ellipse cx="352.3" cy="357.1" rx="4.3" ry="2.1" fill="#aaa5a2"/>
<circle cx="343.2" cy="338.2" r="3.6" fill="#fff"/>
<text x="465.4" y="240.6" font-size="18" text-anchor="start" fill="#1a1a1a" >e</text>
<text transform="translate(475.6,337.6) rotate(-90)" font-size="9.55" text-anchor="middle" fill="#1a1a1a">Count</text>
<text x="587.0" y="458.4" font-size="9.2" text-anchor="middle" fill="#1a1a1a" >EYFP</text>
<clipPath id="ce"><rect x="481" y="225.6" width="202" height="200.8"/></clipPath>
<line x1="481.2" y1="280.7" x2="682.6" y2="280.7" stroke="#9cc4e6" stroke-width="0.9"/>
<path d="M501.0,280.7 L501.9,280.5 L502.8,280.3 L503.7,280.3 L504.6,280.3 L505.5,280.3 L506.4,280.2 L507.3,280.5 L508.2,280.2 L509.1,280.3 L510.0,280.2 L510.9,280.2 L511.8,280.2 L512.7,280.1 L513.6,280.2 L514.5,280.2 L515.4,280.1 L516.3,280.0 L517.2,280.1 L518.1,280.2 L519.0,280.2 L519.9,280.3 L520.8,279.9 L521.7,280.4 L522.6,280.1 L523.5,280.1 L524.4,280.1 L525.3,280.4 L526.2,280.1 L527.1,280.1 L528.0,280.2 L528.9,280.2 L529.8,280.1 L530.7,280.1 L531.6,280.1 L532.5,280.1 L533.4,279.9 L534.3,280.0 L535.2,280.1 L536.1,280.1 L537.0,280.1 L537.9,280.1 L538.8,280.0 L539.7,280.1 L540.6,280.1 L541.5,280.1 L542.4,280.2 L543.3,280.1 L544.2,280.0 L545.1,280.1 L546.0,279.9 L546.9,279.8 L547.8,280.0 L548.7,280.0 L549.6,279.9 L550.5,279.8 L551.4,279.9 L552.3,279.7 L553.2,279.8 L554.1,279.7 L555.0,279.7 L555.9,279.9 L556.8,279.9 L557.7,279.7 L558.6,279.5 L559.5,279.4 L560.4,278.6 L561.3,279.8 L562.2,279.4 L563.1,279.1 L564.0,278.9 L564.9,278.9 L565.8,279.2 L566.7,278.7 L567.6,278.0 L568.5,277.0 L569.4,277.7 L570.3,277.3 L571.2,276.6 L572.1,276.8 L573.0,274.9 L573.9,274.8 L574.8,274.6 L575.7,273.9 L576.6,273.7 L577.5,272.8 L578.4,270.7 L579.3,269.7 L580.2,269.7 L581.1,268.3 L582.0,266.8 L582.9,266.7 L583.8,264.3 L584.7,262.2 L585.6,259.9 L586.5,260.1 L587.4,255.4 L588.3,254.1 L589.2,252.2 L590.1,248.2 L591.0,245.5 L591.9,240.1 L592.8,238.1 L593.7,234.9 L594.6,233.9 L595.5,232.5 L596.4,226.2 L597.3,227.6 L598.2,227.9 L599.1,227.3 L600.0,226.6 L600.9,226.6 L601.8,228.8 L602.7,229.9 L603.6,229.3 L604.5,233.1 L605.4,234.8 L606.3,240.3 L607.2,241.2 L608.1,246.1 L609.0,247.3 L609.9,250.8 L610.8,253.7 L611.7,256.6 L612.6,254.8 L613.5,259.2 L614.4,261.6 L615.3,263.1 L616.2,264.1 L617.1,266.1 L618.0,267.0 L618.9,268.7 L619.8,271.1 L620.7,271.9 L621.6,273.3 L622.5,275.4 L623.4,274.8 L624.3,276.1 L625.2,276.9 L626.1,277.7 L627.0,277.7 L627.9,278.6 L628.8,279.0 L629.7,279.5 L630.6,279.9 L631.5,280.1 L632.4,280.6 L633.3,280.6 L634.2,280.7 L635.1,280.7" fill="none" stroke="#3b8fd6" stroke-width="1.45" stroke-linejoin="round" clip-path="url(#ce)"/>
<text x="640.0" y="274.7" font-size="9.6" text-anchor="start" fill="#1a1a1a" >90 µg/ml</text>
<line x1="481.2" y1="309.0" x2="682.6" y2="309.0" stroke="#97a285" stroke-width="0.9"/>
<path d="M501.0,309.0 L501.9,308.9 L502.8,308.5 L503.7,308.4 L504.6,308.7 L505.5,308.7 L506.4,308.4 L507.3,308.5 L508.2,308.5 L509.1,308.6 L510.0,309.0 L510.9,308.9 L511.8,308.5 L512.7,308.9 L513.6,308.3 L514.5,308.2 L515.4,309.0 L516.3,308.4 L517.2,308.3 L518.1,308.6 L519.0,308.4 L519.9,308.1 L520.8,308.7 L521.7,308.4 L522.6,307.9 L523.5,308.7 L524.4,308.6 L525.3,308.3 L526.2,308.0 L527.1,308.2 L528.0,308.6 L528.9,308.6 L529.8,308.4 L530.7,308.3 L531.6,308.9 L532.5,308.6 L533.4,308.8 L534.3,308.8 L535.2,308.3 L536.1,308.4 L537.0,308.9 L537.9,308.2 L538.8,308.5 L539.7,307.8 L540.6,308.9 L541.5,308.6 L542.4,308.4 L543.3,308.2 L544.2,308.2 L545.1,308.2 L546.0,308.1 L546.9,307.6 L547.8,308.4 L548.7,308.5 L549.6,307.5 L550.5,308.1 L551.4,307.9 L552.3,307.6 L553.2,307.8 L554.1,308.1 L555.0,307.3 L555.9,307.7 L556.8,308.1 L557.7,307.9 L558.6,307.3 L559.5,307.6 L560.4,306.5 L561.3,307.2 L562.2,306.9 L563.1,306.7 L564.0,306.5 L564.9,304.2 L565.8,304.9 L566.7,304.0 L567.6,304.5 L568.5,304.4 L569.4,304.4 L570.3,302.9 L571.2,302.2 L572.1,303.4 L573.0,301.0 L573.9,299.6 L574.8,297.2 L575.7,298.0 L576.6,296.0 L577.5,297.9 L578.4,294.6 L579.3,292.7 L580.2,292.5 L581.1,290.3 L582.0,287.0 L582.9,285.4 L583.8,288.0 L584.7,283.4 L585.6,280.0 L586.5,281.3 L587.4,278.6 L588.3,280.8 L589.2,275.6 L590.1,270.4 L591.0,266.7 L591.9,266.7 L592.8,262.3 L593.7,254.0 L594.6,255.7 L595.5,256.2 L596.4,259.2 L597.3,261.8 L598.2,263.0 L599.1,267.1 L600.0,265.9 L600.9,265.9 L601.8,265.6 L602.7,266.0 L603.6,268.7 L604.5,268.1 L605.4,269.3 L606.3,272.1 L607.2,275.3 L608.1,279.4 L609.0,280.2 L609.9,285.8 L610.8,287.5 L611.7,287.0 L612.6,288.8 L613.5,291.9 L614.4,294.1 L615.3,293.3 L616.2,296.5 L617.1,299.1 L618.0,297.6 L618.9,299.3 L619.8,302.9 L620.7,303.0 L621.6,304.3 L622.5,305.3 L623.4,305.1 L624.3,305.6 L625.2,305.9 L626.1,306.6 L627.0,306.5 L627.9,306.7 L628.8,308.1 L629.7,308.0 L630.6,309.0 L631.5,309.0 L632.4,309.0" fill="none" stroke="#3a4f1c" stroke-width="1.45" stroke-linejoin="round" clip-path="url(#ce)"/>
<text x="640.0" y="303.0" font-size="9.6" text-anchor="start" fill="#1a1a1a" >60 µg/ml</text>
<line x1="481.2" y1="337.4" x2="682.6" y2="337.4" stroke="#a8ec94" stroke-width="0.9"/>
<path d="M540.0,337.4 L540.9,337.0 L541.8,336.9 L542.7,336.9 L543.6,336.6 L544.5,336.7 L545.4,336.7 L546.3,336.7 L547.2,336.6 L548.1,336.5 L549.0,336.4 L549.9,336.6 L550.8,336.2 L551.7,336.5 L552.6,336.5 L553.5,336.5 L554.4,336.6 L555.3,336.7 L556.2,335.7 L557.1,336.3 L558.0,336.3 L558.9,335.8 L559.8,336.1 L560.7,336.2 L561.6,336.8 L562.5,335.8 L563.4,335.8 L564.3,335.0 L565.2,335.8 L566.1,334.8 L567.0,335.2 L567.9,335.2 L568.8,334.0 L569.7,333.8 L570.6,334.5 L571.5,333.2 L572.4,332.8 L573.3,332.9 L574.2,331.3 L575.1,331.6 L576.0,330.6 L576.9,330.1 L577.8,329.9 L578.7,328.1 L579.6,328.0 L580.5,327.2 L581.4,325.1 L582.3,323.2 L583.2,321.8 L584.1,320.4 L585.0,318.2 L585.9,317.0 L586.8,313.4 L587.7,312.9 L588.6,310.1 L589.5,309.2 L590.4,303.2 L591.3,301.0 L592.2,299.0 L593.1,295.0 L594.0,290.8 L594.9,290.0 L595.8,287.4 L596.7,287.7 L597.6,285.2 L598.5,285.2 L599.4,283.9 L600.3,283.3 L601.2,286.3 L602.1,286.1 L603.0,287.5 L603.9,287.9 L604.8,292.0 L605.7,294.3 L606.6,296.6 L607.5,300.0 L608.4,301.9 L609.3,305.3 L610.2,308.5 L611.1,310.7 L612.0,313.3 L612.9,314.7 L613.8,317.5 L614.7,318.7 L615.6,320.7 L616.5,320.1 L617.4,324.5 L618.3,325.4 L619.2,325.2 L620.1,328.8 L621.0,329.3 L621.9,329.4 L622.8,331.8 L623.7,331.5 L624.6,333.2 L625.5,333.9 L626.4,334.3 L627.3,335.1 L628.2,335.6 L629.1,335.6 L630.0,336.3 L630.9,336.9 L631.8,336.9 L632.7,337.2 L633.6,337.4 L634.5,337.4 L635.4,337.4" fill="none" stroke="#66e848" stroke-width="1.45" stroke-linejoin="round" clip-path="url(#ce)"/>
<text x="640.0" y="331.0" font-size="9.6" text-anchor="start" fill="#1a1a1a" >30 µg/ml</text>
<line x1="481.2" y1="366.2" x2="682.6" y2="366.2" stroke="#f4cfae" stroke-width="0.9"/>
<path d="M493.3,366.2 L494.2,365.2 L495.1,364.3 L496.0,361.7 L496.9,361.0 L497.8,357.6 L498.7,356.2 L499.6,351.1 L500.5,347.0 L501.4,340.0 L502.3,333.7 L503.2,328.8 L504.1,321.6 L505.0,319.4 L505.9,316.1 L506.8,313.4 L507.7,313.9 L508.6,317.1 L509.5,321.2 L510.4,325.9 L511.3,330.1 L512.2,333.4 L513.1,337.3 L514.0,340.1 L514.9,342.3 L515.8,346.4 L516.7,348.3 L517.6,350.1 L518.5,353.2 L519.4,356.8 L520.3,359.2 L521.2,359.5 L522.1,360.8 L523.0,361.5 L523.9,361.5 L524.8,361.9 L525.7,362.7 L526.6,362.9 L527.5,363.7 L528.4,363.7 L529.3,363.2 L530.2,364.5 L531.1,364.2 L532.0,363.6 L532.9,364.7 L533.8,364.4 L534.7,365.7 L535.6,365.2 L536.5,365.0 L537.4,365.4 L538.3,364.9 L539.2,365.3 L540.1,365.6 L541.0,365.6 L541.9,365.7 L542.8,365.8 L543.7,365.7 L544.6,365.8 L545.5,365.9 L546.4,365.9 L547.3,365.9 L548.2,366.0 L549.1,366.0 L550.0,366.0 L550.9,366.1 L551.8,366.1 L552.7,366.1 L553.6,366.1 L554.5,366.1 L555.4,366.2 L556.3,366.2 L557.2,366.2 L558.1,366.2 L559.0,366.2 L559.9,366.2 L560.8,366.2 L561.7,366.2 L562.6,366.2 L563.5,366.2 L564.4,366.2 L565.3,366.2 L566.2,366.2 L567.1,366.2 L568.0,366.2 L568.9,366.2 L569.8,366.2 L570.7,366.2 L571.6,366.2 L572.5,366.2 L573.4,366.2 L574.3,366.2 L575.2,366.2 L576.1,366.2 L577.0,366.2 L577.9,366.2 L578.8,366.2 L579.7,366.2 L580.6,366.2 L581.5,366.2 L582.4,366.2 L583.3,366.2 L584.2,366.2" fill="none" stroke="#f09248" stroke-width="1.65" stroke-linejoin="round" clip-path="url(#ce)"/>
<text x="640.0" y="360.4" font-size="9.6" text-anchor="start" fill="#1a1a1a" >3 µg/ml</text>
<line x1="481.2" y1="394.8" x2="682.6" y2="394.8" stroke="#98d6ee" stroke-width="0.9"/>
<path d="M491.8,394.8 L492.7,394.2 L493.6,392.8 L494.5,390.3 L495.4,388.0 L496.3,386.1 L497.2,382.6 L498.1,378.5 L499.0,371.0 L499.9,363.2 L500.8,362.3 L501.7,353.8 L502.6,347.6 L503.5,345.4 L504.4,342.9 L505.3,341.9 L506.2,345.8 L507.1,348.7 L508.0,351.9 L508.9,357.3 L509.8,361.1 L510.7,364.7 L511.6,368.9 L512.5,373.9 L513.4,378.6 L514.3,381.4 L515.2,382.5 L516.1,386.0 L517.0,387.3 L517.9,389.2 L518.8,391.6 L519.7,393.8 L520.6,394.3 L521.5,394.7 L522.4,394.8 L523.3,394.8" fill="none" stroke="#2cb8ea" stroke-width="1.65" stroke-linejoin="round" clip-path="url(#ce)"/>
<text x="638.6" y="387.6" font-size="9.6" text-anchor="start" fill="#1a1a1a" >0.3 µg/ml</text>
<line x1="481.2" y1="423.3" x2="682.6" y2="423.3" stroke="#eaa4a4" stroke-width="0.9"/>
<path d="M493.0,423.3 L493.9,422.2 L494.8,421.1 L495.7,419.4 L496.6,418.2 L497.5,415.0 L498.4,413.2 L499.3,408.2 L500.2,403.0 L501.1,396.2 L502.0,391.3 L502.9,385.4 L503.8,378.6 L504.7,375.2 L505.6,372.6 L506.5,370.5 L507.4,371.6 L508.3,373.6 L509.2,374.6 L510.1,377.3 L511.0,379.9 L511.9,385.1 L512.8,388.7 L513.7,389.3 L514.6,398.1 L515.5,398.5 L516.4,401.9 L517.3,403.9 L518.2,406.1 L519.1,409.9 L520.0,414.5 L520.9,418.1 L521.8,418.8 L522.7,419.2 L523.6,419.1 L524.5,420.0 L525.4,420.7 L526.3,421.3 L527.2,421.4 L528.1,422.0 L529.0,421.7 L529.9,422.5 L530.8,422.5 L531.7,422.8 L532.6,423.0 L533.5,423.2 L534.4,423.3 L535.3,423.3" fill="none" stroke="#de4a28" stroke-width="1.65" stroke-linejoin="round" clip-path="url(#ce)"/>
<text x="640.0" y="418.8" font-size="9.6" text-anchor="start" fill="#1a1a1a" >0 µg/ml</text>
<rect x="481.2" y="224.9" width="201.40000000000003" height="201.70000000000002" fill="none" stroke="#383838" stroke-width="1.35"/>
<line x1="522.6" y1="426.6" x2="522.6" y2="432.8" stroke="#000" stroke-width="1.1"/>
<line x1="571.8" y1="426.6" x2="571.8" y2="432.8" stroke="#000" stroke-width="1.1"/>
<line x1="618.4" y1="426.6" x2="618.4" y2="432.8" stroke="#000" stroke-width="1.1"/>
<line x1="664.0" y1="426.6" x2="664.0" y2="432.8" stroke="#000" stroke-width="1.1"/>
<line x1="499.4" y1="426.6" x2="499.4" y2="432.8" stroke="#000" stroke-width="1.1"/>
<line x1="502.2" y1="426.6" x2="502.2" y2="432.8" stroke="#000" stroke-width="1.1"/>
<line x1="503.0" y1="426.6" x2="503.0" y2="429.90000000000003" stroke="#000" stroke-width="0.99"/>
<line x1="505.2" y1="426.6" x2="505.2" y2="429.90000000000003" stroke="#000" stroke-width="0.99"/>
<line x1="507.3" y1="426.6" x2="507.3" y2="429.90000000000003" stroke="#000" stroke-width="0.99"/>
<line x1="509.5" y1="426.6" x2="509.5" y2="429.90000000000003" stroke="#000" stroke-width="0.99"/>
<line x1="511.7" y1="426.6" x2="511.7" y2="430.90000000000003" stroke="#000" stroke-width="0.99"/>
<line x1="513.9" y1="426.6" x2="513.9" y2="429.90000000000003" stroke="#000" stroke-width="0.99"/>
<line x1="516.1" y1="426.6" x2="516.1" y2="429.90000000000003" stroke="#000" stroke-width="0.99"/>
<line x1="518.2" y1="426.6" x2="518.2" y2="429.90000000000003" stroke="#000" stroke-width="0.99"/>
<line x1="520.4" y1="426.6" x2="520.4" y2="429.90000000000003" stroke="#000" stroke-width="0.99"/>
<line x1="498.6" y1="426.6" x2="498.6" y2="429.90000000000003" stroke="#000" stroke-width="0.99"/>
<line x1="496.4" y1="426.6" x2="496.4" y2="429.90000000000003" stroke="#000" stroke-width="0.99"/>
<line x1="494.3" y1="426.6" x2="494.3" y2="429.90000000000003" stroke="#000" stroke-width="0.99"/>
<line x1="492.1" y1="426.6" x2="492.1" y2="429.90000000000003" stroke="#000" stroke-width="0.99"/>
<line x1="489.9" y1="426.6" x2="489.9" y2="429.90000000000003" stroke="#000" stroke-width="0.99"/>
<line x1="487.7" y1="426.6" x2="487.7" y2="429.90000000000003" stroke="#000" stroke-width="0.99"/>
<line x1="485.5" y1="426.6" x2="485.5" y2="429.90000000000003" stroke="#000" stroke-width="0.99"/>
<line x1="483.4" y1="426.6" x2="483.4" y2="429.90000000000003" stroke="#000" stroke-width="0.99"/>
<line x1="537.4" y1="426.6" x2="537.4" y2="429.90000000000003" stroke="#000" stroke-width="0.99"/>
<line x1="546.1" y1="426.6" x2="546.1" y2="429.90000000000003" stroke="#000" stroke-width="0.99"/>
<line x1="552.2" y1="426.6" x2="552.2" y2="429.90000000000003" stroke="#000" stroke-width="0.99"/>
<line x1="557.0" y1="426.6" x2="557.0" y2="429.90000000000003" stroke="#000" stroke-width="0.99"/>
<line x1="560.9" y1="426.6" x2="560.9" y2="429.90000000000003" stroke="#000" stroke-width="0.99"/>
<line x1="564.2" y1="426.6" x2="564.2" y2="429.90000000000003" stroke="#000" stroke-width="0.99"/>
<line x1="567.0" y1="426.6" x2="567.0" y2="429.90000000000003" stroke="#000" stroke-width="0.99"/>
<line x1="569.5" y1="426.6" x2="569.5" y2="429.90000000000003" stroke="#000" stroke-width="0.99"/>
<line x1="585.8" y1="426.6" x2="585.8" y2="429.90000000000003" stroke="#000" stroke-width="0.99"/>
<line x1="594.0" y1="426.6" x2="594.0" y2="429.90000000000003" stroke="#000" stroke-width="0.99"/>
<line x1="599.9" y1="426.6" x2="599.9" y2="429.90000000000003" stroke="#000" stroke-width="0.99"/>
<line x1="604.4" y1="426.6" x2="604.4" y2="429.90000000000003" stroke="#000" stroke-width="0.99"/>
<line x1="608.1" y1="426.6" x2="608.1" y2="429.90000000000003" stroke="#000" stroke-width="0.99"/>
<line x1="611.2" y1="426.6" x2="611.2" y2="429.90000000000003" stroke="#000" stroke-width="0.99"/>
<line x1="613.9" y1="426.6" x2="613.9" y2="429.90000000000003" stroke="#000" stroke-width="0.99"/>
<line x1="616.3" y1="426.6" x2="616.3" y2="429.90000000000003" stroke="#000" stroke-width="0.99"/>
<line x1="632.1" y1="426.6" x2="632.1" y2="429.90000000000003" stroke="#000" stroke-width="0.99"/>
<line x1="640.2" y1="426.6" x2="640.2" y2="429.90000000000003" stroke="#000" stroke-width="0.99"/>
<line x1="645.9" y1="426.6" x2="645.9" y2="429.90000000000003" stroke="#000" stroke-width="0.99"/>
<line x1="650.3" y1="426.6" x2="650.3" y2="429.90000000000003" stroke="#000" stroke-width="0.99"/>
<line x1="653.9" y1="426.6" x2="653.9" y2="429.90000000000003" stroke="#000" stroke-width="0.99"/>
<line x1="656.9" y1="426.6" x2="656.9" y2="429.90000000000003" stroke="#000" stroke-width="0.99"/>
<line x1="659.6" y1="426.6" x2="659.6" y2="429.90000000000003" stroke="#000" stroke-width="0.99"/>
<line x1="661.9" y1="426.6" x2="661.9" y2="429.90000000000003" stroke="#000" stroke-width="0.99"/>
<line x1="677.7" y1="426.6" x2="677.7" y2="429.90000000000003" stroke="#000" stroke-width="0.99"/>
<text x="500.6" y="444.2" font-size="9.4" text-anchor="middle" fill="#1a1a1a" >0</text>
<text x="518.8" y="444.2" font-size="9.4" text-anchor="start" fill="#1a1a1a" >10<tspan font-size="6.0" dy="-3.4">2</tspan></text>
<text x="565.8" y="444.2" font-size="9.4" text-anchor="start" fill="#1a1a1a" >10<tspan font-size="6.0" dy="-3.4">3</tspan></text>
<text x="614.6" y="444.2" font-size="9.4" text-anchor="start" fill="#1a1a1a" >10<tspan font-size="6.0" dy="-3.4">4</tspan></text>
<text x="658.6" y="444.2" font-size="9.4" text-anchor="start" fill="#1a1a1a" >10<tspan font-size="6.0" dy="-3.4">5</tspan></text>
</svg>
</body></html>
